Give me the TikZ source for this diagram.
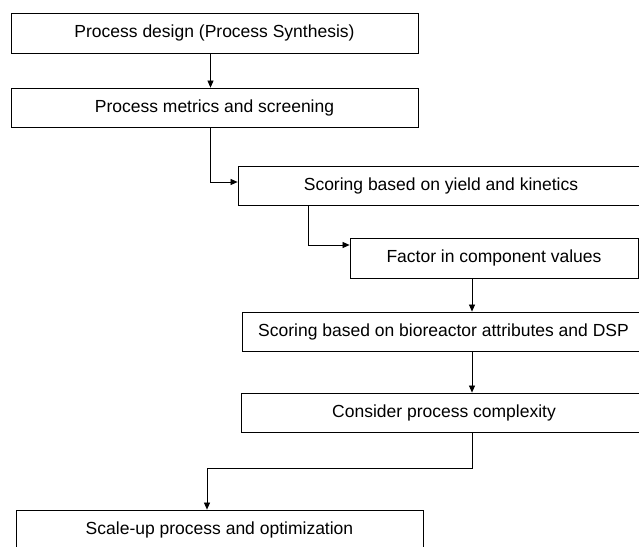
\documentclass[tikz,border=0pt]{standalone}
\usepackage{fontspec}
\setmainfont{Liberation Sans}
\usetikzlibrary{arrows.meta,positioning}

\begin{document}
\begin{tikzpicture}[
    x=1pt, y=-1pt,
    stepbox/.style={rectangle, draw=black, line width=0.8pt, minimum height=39pt, inner sep=0pt, font=\fontsize{17.5}{20}\selectfont},
    arr/.style={-{Triangle[length=7pt,width=6pt]}, line width=0.7pt}
]
\useasboundingbox (0,0) rectangle (639,546);
\clip (0,0) rectangle (639,546);

\node[stepbox, minimum width=407pt, minimum height=40pt] (design) at (214.5,33) {Process design (Process Synthesis)};
\node[stepbox, minimum width=407pt] (metrics) at (214.5,107.5) {Process metrics and screening};
\node[stepbox, minimum width=406pt] (yield) at (441,185.5) {Scoring based on yield and kinetics};
\node[stepbox, minimum width=288pt, minimum height=40pt] (factor) at (494,258) {Factor in component values};
\node[stepbox, minimum width=403pt] (bioreact) at (443.5,331.5) {Scoring based on bioreactor attributes and DSP};
\node[stepbox, minimum width=406pt] (complex) at (444,412.5) {Consider process complexity};
\node[stepbox, minimum width=407pt, minimum height=40pt] (scaleup) at (219.5,530) {\raisebox{3pt}{Scale-up process and optimization}};

% x positions of the connectors
\coordinate (xa) at (210.5,0);
\coordinate (xb) at (308,0);
\coordinate (xc) at (472,0);
\coordinate (xd) at (207,0);
\coordinate (bend) at (472,468);

\draw[arr] (design.south -| xa) -- (metrics.north -| xa);
\draw[arr] (metrics.south -| xa) |- ([yshift=3.5pt]yield.west);
\draw[arr] (yield.south -| xb) |- ([yshift=13pt]factor.west);
\draw[arr] (factor.south -| xc) -- (bioreact.north -| xc);
\draw[arr] (bioreact.south -| xc) -- (complex.north -| xc);
\draw[arr] (complex.south -| xc) -- (bend) -| (scaleup.north -| xd);
\end{tikzpicture}
\end{document}
